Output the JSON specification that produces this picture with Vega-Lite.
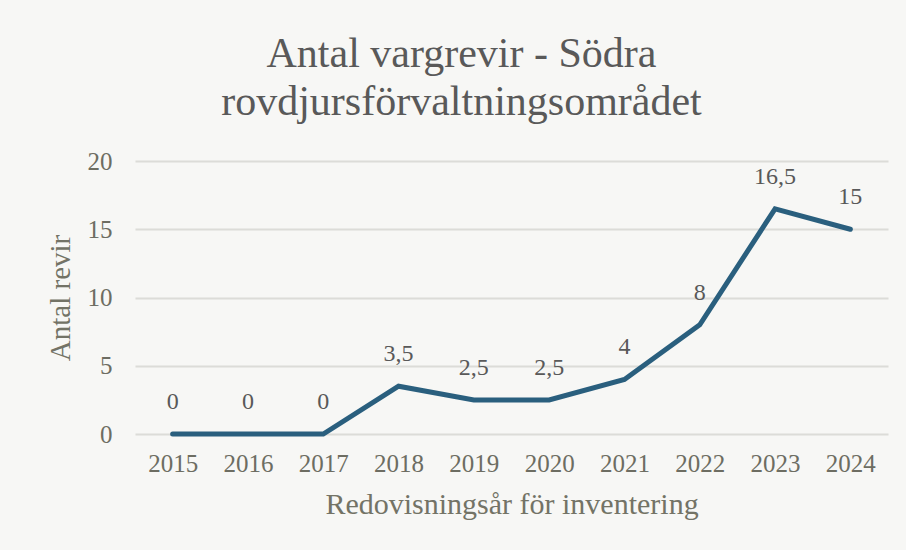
{
  "$schema": "https://vega.github.io/schema/vega-lite/v6.json",
  "width": 753,
  "height": 273,
  "autosize": {"type": "none"},
  "padding": {"left": 135, "top": 161, "right": 18, "bottom": 116},
  "background": "#f7f7f5",
  "title": {
    "text": ["Antal vargrevir - Södra", "rovdjursförvaltningsområdet"],
    "font": "Liberation Serif",
    "fontSize": 42,
    "fontWeight": "normal",
    "color": "#595959",
    "lineHeight": 48,
    "anchor": "middle",
    "dx": -50,
    "offset": 25
  },
  "config": {
    "locale": {"number": {"decimal": ",", "thousands": " ", "grouping": [3], "currency": ["", " kr"]}},
    "view": {"stroke": null},
    "font": "Liberation Serif"
  },
  "data": {
    "values": [
      {"year": "2015", "revir": 0},
      {"year": "2016", "revir": 0},
      {"year": "2017", "revir": 0},
      {"year": "2018", "revir": 3.5},
      {"year": "2019", "revir": 2.5},
      {"year": "2020", "revir": 2.5},
      {"year": "2021", "revir": 4},
      {"year": "2022", "revir": 8},
      {"year": "2023", "revir": 16.5},
      {"year": "2024", "revir": 15}
    ]
  },
  "encoding": {
    "x": {
      "field": "year",
      "type": "ordinal",
      "scale": {"type": "point", "padding": 0.5},
      "axis": {
        "title": "Redovisningsår för inventering",
        "labelAngle": 0,
        "labelFont": "Liberation Serif",
        "labelFontSize": 25,
        "labelColor": "#6d6d62",
        "labelPadding": 17,
        "titleFont": "Liberation Serif",
        "titleFontSize": 30,
        "titleFontWeight": "normal",
        "titleColor": "#737366",
        "titlePadding": 13,
        "domain": false,
        "ticks": false,
        "grid": false
      }
    },
    "y": {
      "field": "revir",
      "type": "quantitative",
      "scale": {"domain": [0, 20]},
      "axis": {
        "title": "Antal revir",
        "values": [0, 5, 10, 15, 20],
        "labelFont": "Liberation Serif",
        "labelFontSize": 25,
        "labelColor": "#6d6d62",
        "labelPadding": 23,
        "titleFont": "Liberation Serif",
        "titleFontSize": 29,
        "titleFontWeight": "normal",
        "titleColor": "#737366",
        "titlePadding": 12,
        "domain": false,
        "ticks": false,
        "grid": true,
        "gridColor": "#dcdcd8",
        "gridWidth": 2
      }
    }
  },
  "layer": [
    {
      "mark": {"type": "line", "color": "#2a5f7e", "strokeWidth": 5, "strokeCap": "round", "strokeJoin": "miter"}
    },
    {
      "mark": {"type": "text", "dy": -32, "font": "Liberation Serif", "fontSize": 24, "color": "#595959"},
      "encoding": {
        "text": {"field": "revir", "type": "quantitative", "format": "~g"}
      }
    }
  ]
}
